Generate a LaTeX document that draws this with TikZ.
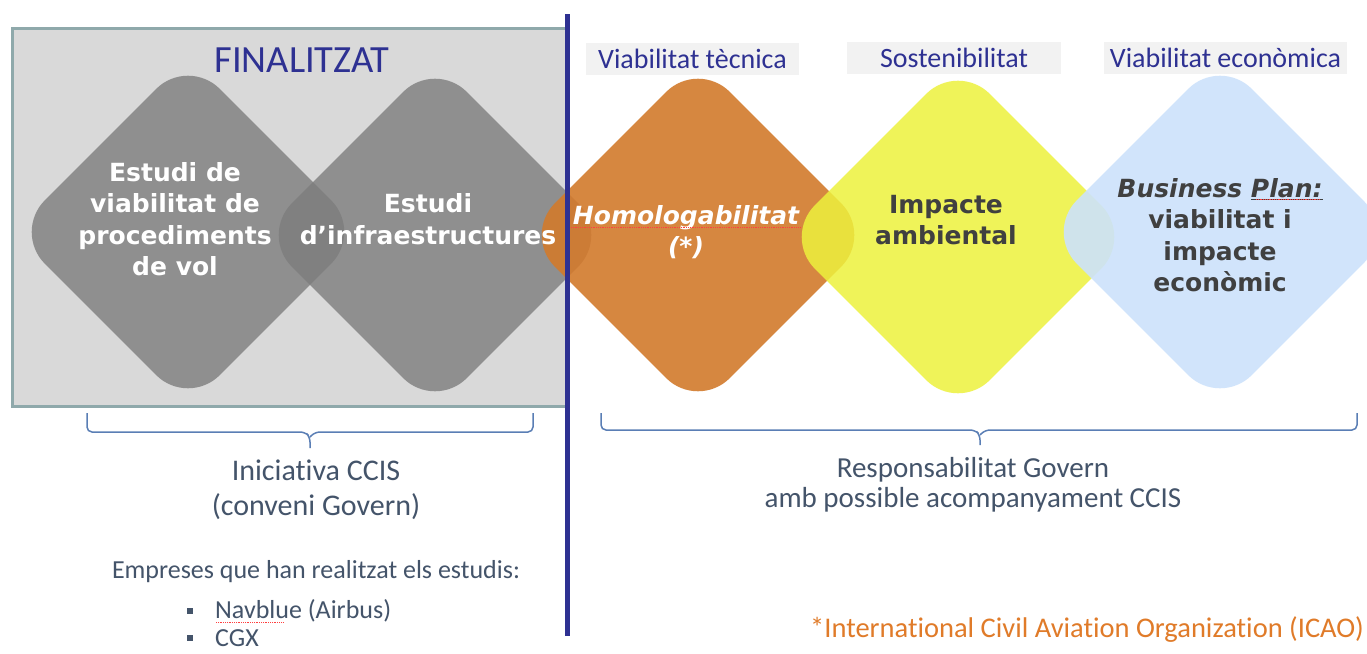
\documentclass[tikz,border=0pt]{standalone}
\usepackage{fontspec}
\setmainfont{Carlito}[Ligatures={NoCommon}]
\newfontfamily\dejavu{DejaVu Sans}
\usepackage{xcolor}
\usetikzlibrary{shapes.geometric, positioning}

\definecolor{navyline}{HTML}{2E3192}
\definecolor{boxgray}{HTML}{D9D9D9}
\definecolor{boxedge}{HTML}{8FA9AB}
\definecolor{diagray}{HTML}{7D7D7D}
\definecolor{diaorange}{HTML}{D27A2C}
\definecolor{diayellow}{HTML}{EDF13D}
\definecolor{diablue}{HTML}{CCE2FB}
\definecolor{tagfill}{HTML}{F2F2F2}
\definecolor{slate}{HTML}{44546A}
\definecolor{bracecol}{HTML}{5A7EB5}
\definecolor{icao}{HTML}{E07B29}
\definecolor{darktxt}{HTML}{404040}

\begin{document}
\begin{tikzpicture}[x=1pt, y=-1pt,
  dia/.style={shape=diamond, minimum width=350pt, minimum height=350pt, inner sep=0pt, rounded corners=45pt, fill opacity=0.85},
  diatext/.style={align=center, inner sep=0pt, font=\dejavu\bfseries\fontsize{25}{31.5}\selectfont},
  tagbox/.style={fill=tagfill, text=navyline, inner sep=0pt, minimum height=32pt, font=\fontsize{28}{30}\selectfont},
  lowtxt/.style={text=slate, align=center, inner sep=0pt},
  brace/.style={draw=bracecol, line width=1.5pt, rounded corners=5pt},
  bulletsq/.style={fill=slate, minimum size=6pt, inner sep=0pt},
  squiggle/.style={draw=red!75, line width=0.8pt, densely dotted}]
\useasboundingbox (0,0) rectangle (1367,653);
\fill[white] (0,0) rectangle (1367,653);

% finished studies
\draw[fill=boxgray, draw=boxedge, line width=3pt] (12,28) rectangle (567,406);
\node[text=navyline, font=\fontsize{38.5}{40}\selectfont] (fin) at (302,60) {FINALITZAT};

% diamonds
\node[dia, fill=diagray, fill opacity=0.8] (est) at (188,232) {};
\node[dia, fill=diagray, fill opacity=0.8] (inf) at (435,235) {};
\node[dia, fill=diaorange, fill opacity=0.9] (hom) at (698,235) {};
\node[dia, fill=diayellow] (imp) at (958,237) {};
\node[dia, fill=diablue, fill opacity=0.9] (bus) at (1220,232) {};

\node[diatext, text=white] (estT) at (175,219) {Estudi de\\viabilitat de\\procediments\\de vol};
\node[diatext, text=white] (infT) at (428,219) {Estudi\\d’infraestructures};
\node[diatext, text=white, font=\dejavu\bfseries\itshape\fontsize{25}{31.5}\selectfont] (homT) at (686,232) {Homologabilitat\\(*)};
\node[diatext, text=darktxt] (impT) at (946,220) {Impacte\\ambiental};
\node[diatext, text=darktxt] (busT) at (1220,235) {{\itshape Business \underline{Plan:}}\\viabilitat i\\impacte\\econòmic};
\draw[squiggle] (571,227) -- (801,227);
\draw[squiggle] (1256,199) -- (1320,199);

% headings
\node[tagbox, minimum width=213pt] (tec) at (692.5,59) {Viabilitat tècnica};
\node[tagbox, minimum width=214pt] (sos) at (954,58) {Sostenibilitat};
\node[tagbox, minimum width=243pt] (eco) at (1225.5,58) {Viabilitat econòmica};

% divider
\draw[navyline, line width=5pt] (567,14) -- (567,636);

% braces
\draw[brace] (87,413) -- (87,432) -- (305,432) -- (310,437) -- (310,448);
\draw[brace] (310,437) -- (315,432) -- (533,432) -- (533,413);
\draw[brace] (601,413) -- (601,430) -- (975,430) -- (980,435) -- (980,445);
\draw[brace] (980,435) -- (985,430) -- (1357,430) -- (1357,413);

\node[lowtxt, font=\fontsize{30}{35}\selectfont] (ini) at (316,490) {Iniciativa CCIS\\(conveni Govern)};
\node[lowtxt, font=\fontsize{29}{30}\selectfont] (resp) at (973,485) {Responsabilitat Govern\\amb possible acompanyament CCIS};

% companies
\node[lowtxt, font=\fontsize{26}{28}\selectfont] (emp) at (316,572) {Empreses que han realitzat els estudis:};
\node[bulletsq] (b1) at (190,611) {};
\node[bulletsq] (b2) at (190,638) {};
\node[lowtxt, anchor=west, font=\fontsize{26}{28}\selectfont] (nav) at (215,611) {Navblue (Airbus)};
\node[lowtxt, anchor=west, font=\fontsize{26}{28}\selectfont] (cgx) at (215,638) {CGX};
\draw[squiggle] (216,622) -- (283,622);

\node[text=icao, anchor=west, inner sep=0pt, font=\fontsize{28.5}{30}\selectfont] (icao) at (810,630) {*International Civil Aviation Organization (ICAO)};
\end{tikzpicture}
\end{document}
